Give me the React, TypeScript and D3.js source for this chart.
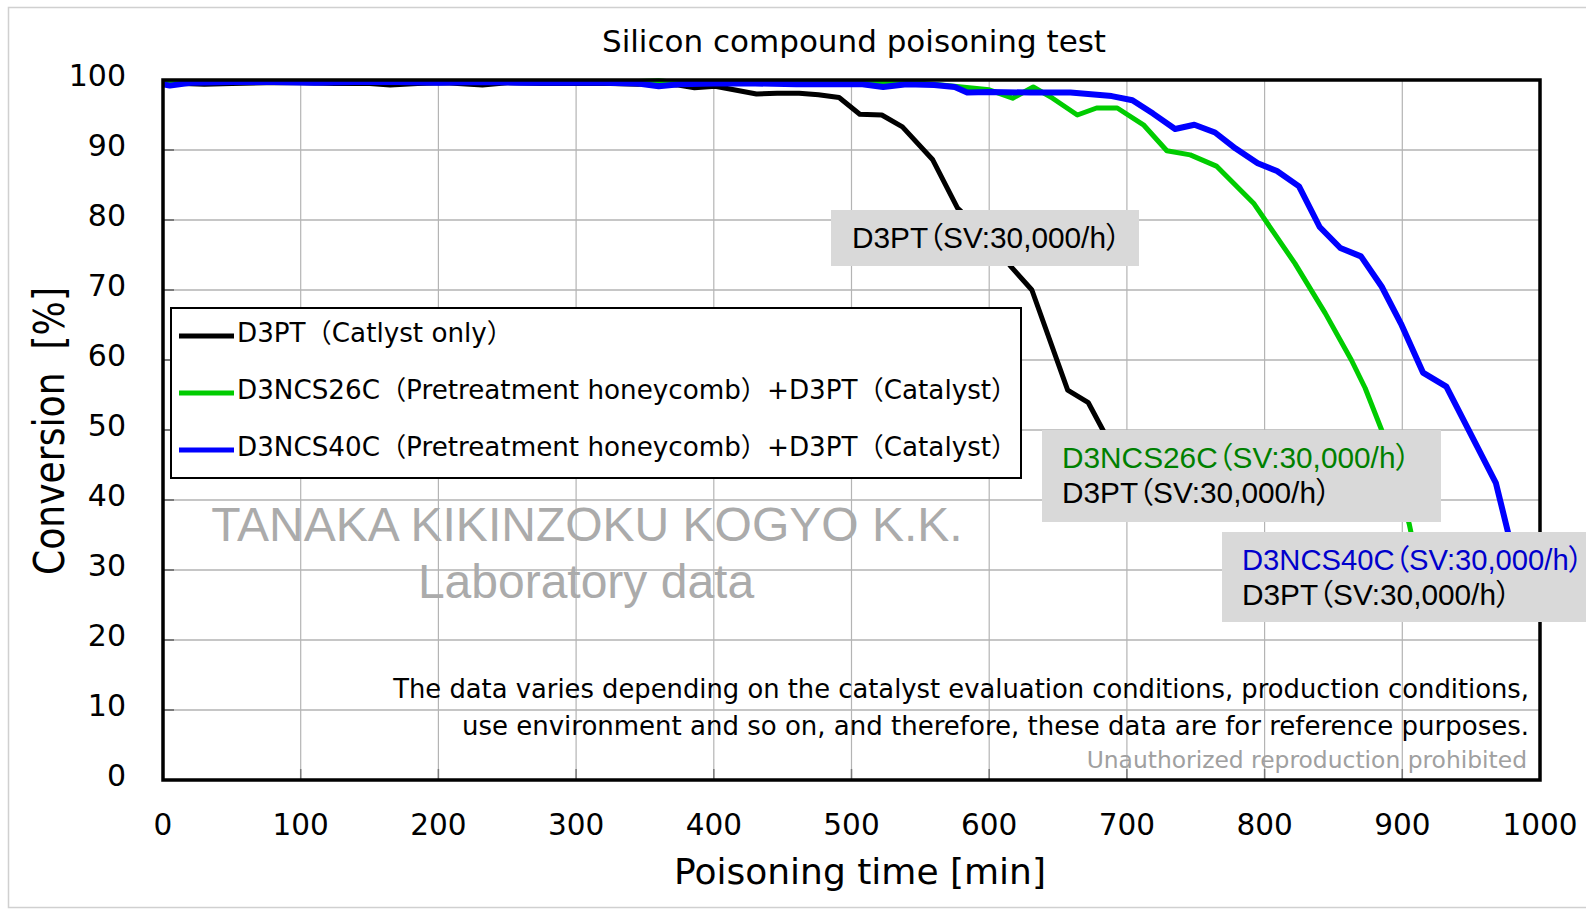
import React from "react";
import * as d3 from "d3";

const W = 1586;
const H = 909;

// axis ticks
const xTicks = [0, 100, 200, 300, 400, 500, 600, 700, 800, 900, 1000];
const yTicks = [0, 10, 20, 30, 40, 50, 60, 70, 80, 90, 100];

// D3PT (catalyst only)
const d3ptTime = [0, 15, 30, 50, 75, 100, 125, 150, 165, 185, 205, 232, 250, 275, 300, 325, 345, 358, 373, 386, 401, 431, 446, 462, 476, 491, 506, 522, 537, 559, 577, 600, 616, 631, 657, 672, 688, 705];
const d3ptConv = [99.7, 99.5, 99.4, 99.5, 99.6, 99.6, 99.5, 99.5, 99.3, 99.5, 99.6, 99.3, 99.6, 99.5, 99.5, 99.5, 99.4, 99.6, 99.3, 98.9, 99.1, 98.0, 98.1, 98.1, 97.9, 97.5, 95.1, 95.0, 93.3, 88.6, 81.7, 77.5, 73.3, 70.0, 55.7, 53.9, 48.0, 43.0];

// D3NCS26C + D3PT
const ncs26Time = [0, 20, 50, 80, 110, 140, 170, 200, 230, 260, 290, 320, 345, 360, 375, 400, 430, 460, 490, 524, 545, 560, 580, 600, 617, 632, 646, 664, 678, 693, 712, 729, 746, 765, 792, 822, 844, 863, 873, 885, 896, 905, 912];
const ncs26Conv = [99.7, 99.8, 99.8, 99.8, 99.7, 99.8, 99.8, 99.8, 99.7, 99.8, 99.8, 99.7, 99.8, 99.9, 99.6, 99.8, 99.8, 99.8, 99.7, 99.7, 99.6, 99.4, 99.0, 98.6, 97.4, 99.0, 97.4, 95.0, 96.0, 96.0, 93.6, 89.9, 89.3, 87.7, 82.4, 73.8, 66.7, 60.0, 56.0, 50.0, 43.0, 36.6, 30.0];

// D3NCS40C + D3PT
const ncs40Time = [0, 5, 20, 50, 80, 110, 140, 170, 200, 230, 260, 290, 320, 345, 360, 375, 400, 430, 460, 490, 508, 523, 540, 560, 575, 584, 600, 630, 659, 689, 704, 719, 735, 749, 764, 779, 795, 809, 825, 840, 855, 870, 885, 899, 915, 932, 968, 977, 985];
const ncs40Conv = [99.4, 99.2, 99.6, 99.7, 99.7, 99.6, 99.7, 99.7, 99.6, 99.7, 99.6, 99.6, 99.6, 99.5, 99.1, 99.4, 99.5, 99.5, 99.4, 99.4, 99.4, 99.0, 99.4, 99.3, 99.0, 98.2, 98.3, 98.2, 98.2, 97.7, 97.1, 95.2, 93.0, 93.6, 92.5, 90.2, 88.1, 87.0, 84.8, 79.0, 76.0, 74.8, 70.5, 65.2, 58.2, 56.2, 42.4, 35.2, 28.0];

const legendLabels = [
  "D3PT（Catlyst only）",
  "D3NCS26C（Pretreatment honeycomb）+D3PT（Catalyst）",
  "D3NCS40C（Pretreatment honeycomb）+D3PT（Catalyst）",
];

const sansFont = "'DejaVu Sans', 'Noto Sans CJK JP', sans-serif";
const arialFont = "'Liberation Sans', Arial, 'Noto Sans CJK JP', sans-serif";
const palt = { fontFeatureSettings: '"palt" 1' };

export default function App() {
  const x = d3.scaleLinear().domain([0, 1000]).range([163, 1540]);
  const y = d3.scaleLinear().domain([0, 100]).range([780, 80]);

  const line = d3
    .line<[number, number]>()
    .x((d) => x(d[0]))
    .y((d) => y(d[1]));

  const series = [
    { label: legendLabels[0], t: d3ptTime, v: d3ptConv, color: "#000000", width: 5 },
    { label: legendLabels[1], t: ncs26Time, v: ncs26Conv, color: "#00cc00", width: 5 },
    { label: legendLabels[2], t: ncs40Time, v: ncs40Conv, color: "#0000ff", width: 6 },
  ];

  const [x0, x1] = x.range();
  const [yb, yt] = y.range();

  return (
    <div style={{ position: "absolute", left: 0, top: 0, background: "#fff" }}>
      <svg width={W} height={H} style={{ display: "block" }}>
        <rect x={0} y={0} width={W} height={H} fill="#fff" />
        {/* chart area border */}
        <rect x={8.5} y={7.5} width={W + 10} height={900} fill="none" stroke="#d0d0d0" strokeWidth={1.5} />

        {/* title */}
        <text x={854} y={52} textAnchor="middle" fontFamily={sansFont} fontSize={31} fill="#000">
          Silicon compound poisoning test
        </text>

        {/* gridlines */}
        {yTicks.map((t) => (
          <line key={"gy" + t} x1={x0} x2={x1} y1={y(t)} y2={y(t)} stroke="#c6c6c6" strokeWidth={2} />
        ))}
        {xTicks.map((t) => (
          <line key={"gx" + t} x1={x(t)} x2={x(t)} y1={yb} y2={yt} stroke="#b4b4b4" strokeWidth={1.2} />
        ))}
        {/* inside ticks */}
        {yTicks.map((t) => (
          <line key={"ty" + t} x1={x0} x2={x0 + 11} y1={y(t)} y2={y(t)} stroke="#7a7a7a" strokeWidth={2} />
        ))}
        {xTicks.map((t) => (
          <line key={"tx" + t} x1={x(t)} x2={x(t)} y1={yb} y2={yb - 11} stroke="#7a7a7a" strokeWidth={1.5} />
        ))}

        {/* watermark */}
        <g fontFamily={arialFont} fontSize={48} fill="#ababab" textAnchor="middle">
          <text x={587} y={541}>TANAKA KIKINZOKU KOGYO K.K.</text>
          <text x={586} y={598}>Laboratory data</text>
        </g>

        {/* disclaimer */}
        <g fontFamily={sansFont} textAnchor="end">
          <text x={1529} y={698} fontSize={25.8} fill="#000">
            The data varies depending on the catalyst evaluation conditions, production conditions,
          </text>
          <text x={1529} y={735} fontSize={26} fill="#000">
            use environment and so on, and therefore, these data are for reference purposes.
          </text>
          <text x={1527} y={768} fontSize={23.4} fill="#a0a0a0">
            Unauthorized reproduction prohibited
          </text>
        </g>

        {/* series */}
        {series.map((s) => (
          <path
            key={s.label}
            d={line(s.t.map((t, i) => [t, s.v[i]] as [number, number])) || ""}
            fill="none"
            stroke={s.color}
            strokeWidth={s.width}
            strokeLinejoin="round"
          />
        ))}

        {/* plot frame */}
        <rect x={x0} y={yt} width={x1 - x0} height={yb - yt} fill="none" stroke="#000" strokeWidth={3.5} />

        {/* axis labels */}
        {yTicks.map((t) => (
          <text key={"ly" + t} x={126} y={y(t) + 6} textAnchor="end" fontFamily={sansFont} fontSize={30} fill="#000">
            {t}
          </text>
        ))}
        {xTicks.map((t) => (
          <text key={"lx" + t} x={x(t)} y={835} textAnchor="middle" fontFamily={sansFont} fontSize={29.5} fill="#000">
            {t}
          </text>
        ))}
        <text x={860} y={884} textAnchor="middle" fontFamily={sansFont} fontSize={36} fill="#000">
          Poisoning time [min]
        </text>
        <text
          transform="translate(64,431) rotate(-90)"
          textAnchor="middle"
          fontFamily={sansFont}
          fontSize={42}
          textLength={288}
          lengthAdjust="spacingAndGlyphs"
          style={{ whiteSpace: "pre" }}
          fill="#000"
        >
          {"Conversion  [%]"}
        </text>

        {/* legend */}
        <rect x={171} y={308} width={850} height={170} fill="#fff" stroke="#000" strokeWidth={2} />
        {series.map((s, i) => (
          <g key={"lg" + i}>
            <line x1={179} x2={234} y1={336 + i * 57} y2={336 + i * 57} stroke={s.color} strokeWidth={5} />
            <text x={237} y={342 + i * 57} fontFamily={sansFont} fontSize={26.2} fill="#000">
              {s.label}
            </text>
          </g>
        ))}

        {/* annotation boxes */}
        <rect x={831} y={210} width={308} height={56} fill="#d9d9d9" />
        <text x={852} y={248} fontFamily={arialFont} fontSize={29.8} fill="#000" style={palt}>
          D3PT（SV:30,000/h）
        </text>

        <rect x={1042} y={430} width={399} height={92} fill="#d9d9d9" />
        <text x={1062} y={468} fontFamily={arialFont} fontSize={29.8} fill="#008000" style={palt}>
          D3NCS26C（SV:30,000/h）
        </text>
        <text x={1062} y={503} fontFamily={arialFont} fontSize={29.8} fill="#000" style={palt}>
          D3PT（SV:30,000/h）
        </text>

        <rect x={1222} y={532} width={400} height={90} fill="#d9d9d9" />
        <text x={1242} y={570} fontFamily={arialFont} fontSize={29.2} fill="#0000cc" style={palt}>
          D3NCS40C（SV:30,000/h）
        </text>
        <text x={1242} y={605} fontFamily={arialFont} fontSize={29.8} fill="#000" style={palt}>
          D3PT（SV:30,000/h）
        </text>
      </svg>
    </div>
  );
}
